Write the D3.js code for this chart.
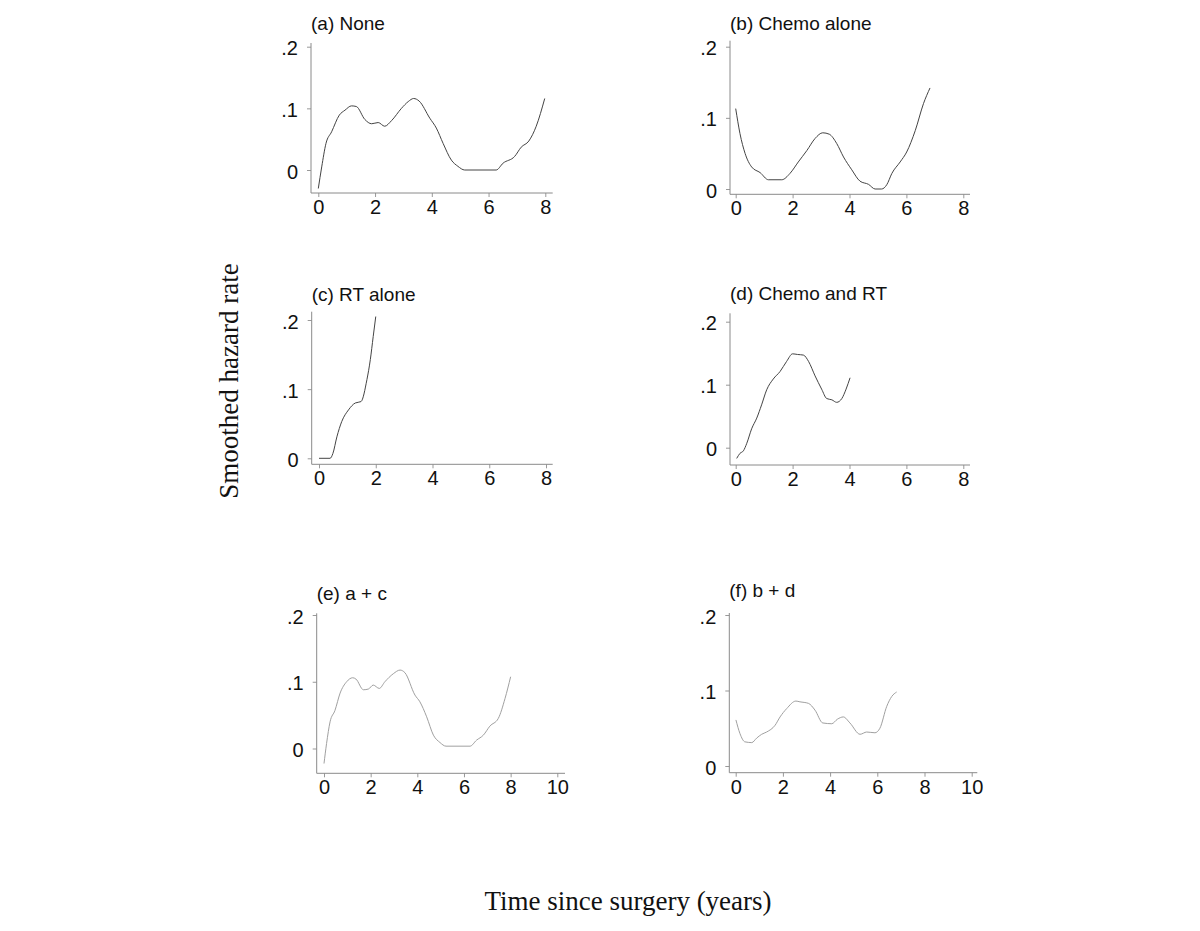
<!DOCTYPE html>
<html>
<head>
<meta charset="utf-8">
<script src="https://cdn.jsdelivr.net/npm/d3@7"></script>
<style>
  body { margin: 0; background: #fff; }
  svg { display: block; }
  .tick text { font-family: "Liberation Sans", Arial, sans-serif; font-size: 20px; fill: #111; }
</style>
</head>
<body>
<svg width="1200" height="931"></svg>
<script>
// smoothed hazard estimates, [years, rate]
var hazardNone = [[0,-0.030],[0.12,0.005],[0.27,0.043],[0.47,0.062],[0.74,0.089],[0.94,0.097],[1.17,0.104],
  [1.34,0.103],[1.64,0.082],[1.88,0.075],[2.11,0.077],[2.34,0.071],[2.58,0.080],[2.93,0.100],[3.17,0.111],
  [3.36,0.116],[3.55,0.112],[3.93,0.084],[4.16,0.068],[4.40,0.043],[4.69,0.016],[4.92,0.006],[5.16,0.0],
  [6.27,0.0],[6.51,0.011],[6.92,0.022],[7.15,0.037],[7.42,0.047],[7.68,0.071],[7.98,0.116]];
var hazardChemo = [[0,0.113],[0.15,0.078],[0.33,0.050],[0.56,0.031],[0.86,0.023],[1.15,0.013],[1.62,0.013],
  [1.91,0.022],[2.20,0.038],[2.50,0.054],[2.79,0.071],[3.06,0.079],[3.29,0.077],[3.55,0.064],[3.79,0.045],
  [4.08,0.027],[4.37,0.011],[4.67,0.0065],[4.90,0.0],[5.13,0.0],[5.31,0.006],[5.49,0.022],[5.78,0.038],
  [6.01,0.052],[6.31,0.082],[6.60,0.120],[6.83,0.142]];
var hazardRT = [[0,0],[0.39,0],[0.49,0.007],[0.63,0.031],[0.80,0.053],[1.04,0.070],[1.28,0.080],[1.48,0.082],
  [1.69,0.114],[1.81,0.143],[1.91,0.176],[2.0,0.205]];
var hazardChemoRT = [[0.035,-0.017],[0.15,-0.009],[0.27,-0.005],[0.39,0.007],[0.56,0.030],[0.74,0.047],
  [0.91,0.068],[1.09,0.092],[1.32,0.109],[1.56,0.121],[1.79,0.137],[2.0,0.149],[2.17,0.148],[2.38,0.147],
  [2.56,0.137],[2.79,0.114],[3.02,0.093],[3.20,0.078],[3.38,0.076],[3.55,0.072],[3.73,0.078],[3.88,0.093],
  [4.02,0.111]];
var hazardAC = [[0,-0.0225],[0.11,0.0075],[0.26,0.040],[0.47,0.057],[0.69,0.083],[0.97,0.100],[1.23,0.106],
  [1.37,0.104],[1.69,0.088],[1.90,0.089],[2.11,0.095],[2.37,0.090],[2.61,0.100],[2.97,0.112],[3.26,0.1175],
  [3.47,0.1135],[3.90,0.080],[4.11,0.070],[4.40,0.0475],[4.69,0.020],[4.97,0.009],[5.23,0.0035],[6.26,0.0035],
  [6.54,0.0125],[6.83,0.020],[7.11,0.0335],[7.47,0.045],[7.76,0.075],[8.0,0.1075]];
var hazardBD = [[0.01,0.061],[0.18,0.043],[0.39,0.032],[0.68,0.031],[0.89,0.037],[1.10,0.042],[1.31,0.045],
  [1.67,0.054],[1.88,0.065],[2.16,0.076],[2.55,0.086],[2.72,0.085],[3.08,0.083],[3.36,0.074],[3.69,0.057],
  [4.07,0.056],[4.31,0.062],[4.56,0.065],[4.84,0.057],[5.27,0.042],[5.55,0.045],[5.90,0.044],[6.11,0.050],
  [6.40,0.079],[6.61,0.092],[6.82,0.098]];

var panelTitles = ["(a) None", "(b) Chemo alone", "(c) RT alone", "(d) Chemo and RT", "(e) a + c", "(f) b + d"];
var xTicksShort = [0, 2, 4, 6, 8];
var xTicksLong = [0, 2, 4, 6, 8, 10];
var yTicks = [0, 0.1, 0.2];
var yTickLabels = ["0", ".1", ".2"];

var svg = d3.select("svg");

// box = axis lines, xr/yr = pixel positions of first/last tick
var panels = [
  { data: hazardNone, ticks: xTicksShort, box: [311, 552.7, 43, 193], xr: [318.3, 545.3], yr: [170, 46.7], tb: 30, col: "#444" },
  { data: hazardChemo, ticks: xTicksShort, box: [730, 970, 40.7, 194.3], xr: [735.7, 963.3], yr: [189, 46.7], tb: 30, col: "#444" },
  { data: hazardRT, ticks: xTicksShort, box: [311.7, 552.7, 311.7, 464.3], xr: [319, 546], yr: [458.3, 320], tb: 300.5, col: "#444" },
  { data: hazardChemoRT, ticks: xTicksShort, box: [730, 970, 313.3, 465], xr: [735.7, 963.3], yr: [447.7, 321.7], tb: 299.5, col: "#444" },
  { data: hazardAC, ticks: xTicksLong, box: [316.7, 565, 613.3, 773.3], xr: [324, 557.3], yr: [748.5, 615], tb: 599.5, col: "#a0a0a0" },
  { data: hazardBD, ticks: xTicksLong, box: [729.3, 977.3, 613, 772.7], xr: [735.7, 971.7], yr: [766, 615], tb: 597, col: "#a0a0a0" }
];

panels.forEach(function (p, i) {
  var x = d3.scaleLinear()
    .domain([0, p.ticks[p.ticks.length - 1]])
    .range(p.xr);
  var y = d3.scaleLinear()
    .domain([0, 0.2])
    .range(p.yr);

  var g = svg.append("g");

  var xAxis = g.append("g")
    .attr("transform", "translate(0," + p.box[3] + ")")
    .call(d3.axisBottom(x).tickValues(p.ticks).tickSize(4).tickPadding(3).tickFormat(d3.format("d")));
  xAxis.select(".domain").remove();

  var yAxis = g.append("g")
    .attr("transform", "translate(" + p.box[0] + ",0)")
    .call(d3.axisLeft(y).tickValues(yTicks).tickSize(4).tickPadding(9)
      .tickFormat(function (d, k) { return yTickLabels[k]; }));
  yAxis.select(".domain").remove();
  yAxis.selectAll("text").attr("dy", "0.4em");

  g.selectAll(".tick line").attr("stroke", "#999");

  g.append("line")
    .attr("x1", p.box[0]).attr("x2", p.box[1])
    .attr("y1", p.box[3]).attr("y2", p.box[3])
    .attr("stroke", "#8a8a8a");
  g.append("line")
    .attr("x1", p.box[0]).attr("x2", p.box[0])
    .attr("y1", p.box[2]).attr("y2", p.box[3])
    .attr("stroke", "#8a8a8a");

  g.append("path")
    .datum(p.data)
    .attr("fill", "none")
    .attr("stroke", p.col)
    .attr("stroke-width", 1)
    .attr("d", d3.line()
      .x(function (d) { return x(d[0]); })
      .y(function (d) { return y(d[1]); })
      .curve(d3.curveMonotoneX));

  g.append("text")
    .attr("x", p.box[0])
    .attr("y", p.tb)
    .attr("font-family", "Liberation Sans, Arial, sans-serif")
    .attr("font-size", 19)
    .attr("fill", "#111")
    .text(panelTitles[i]);
});

svg.append("text")
  .attr("transform", "translate(238,381) rotate(-90)")
  .attr("text-anchor", "middle")
  .attr("font-family", "Liberation Serif, Times New Roman, serif")
  .attr("font-size", 27)
  .attr("fill", "#111")
  .text("Smoothed hazard rate");

svg.append("text")
  .attr("x", 628)
  .attr("y", 910)
  .attr("text-anchor", "middle")
  .attr("font-family", "Liberation Serif, Times New Roman, serif")
  .attr("font-size", 27)
  .attr("fill", "#111")
  .text("Time since surgery (years)");
</script>
</body>
</html>
